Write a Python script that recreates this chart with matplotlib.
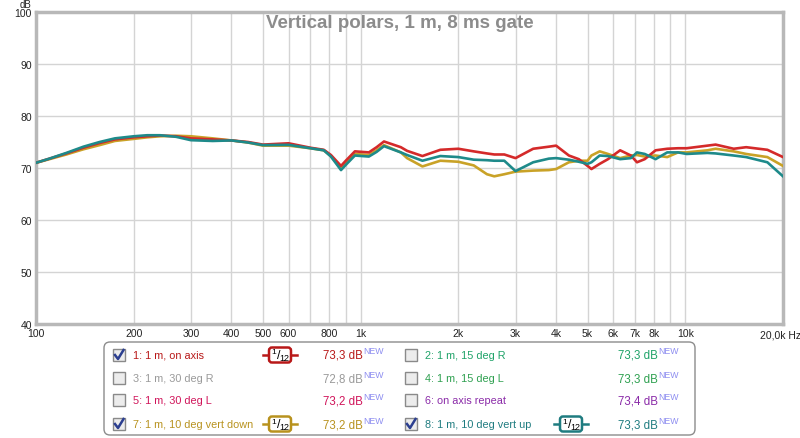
import matplotlib
matplotlib.use("Agg")
import matplotlib.pyplot as plt
from matplotlib.patches import Rectangle, FancyBboxPatch
from matplotlib.lines import Line2D
from matplotlib.transforms import Affine2D

plt.rcParams['font.family'] = ['Liberation Sans', 'DejaVu Sans']

# frequencies (Hz) shared by the three visible curves
freq = [100, 110, 124, 140, 157, 175, 200, 220, 241, 270, 300, 350, 400, 450, 500, 600, 700, 770,
        810, 870, 900, 960, 1060, 1120, 1180, 1330, 1390, 1550, 1760, 2000, 2230, 2450, 2580,
        2770, 3000, 3400, 3800, 4000, 4380, 4700, 5000, 5140, 5450, 5780, 6300, 6800, 7100,
        7500, 8100, 8800, 9500, 10100, 11700, 12400, 14100, 15400, 17900, 20000]

on_axis = [71.0, 71.8, 72.8, 73.9, 74.8, 75.5, 75.9, 76.1, 76.25, 76.1, 75.7, 75.5, 75.3, 75.0, 74.5,
           74.75, 73.9, 73.5, 72.5, 70.4, 71.4, 73.2, 73.0, 74.0, 75.1, 74.0, 73.3, 72.3, 73.5,
           73.7, 73.2, 72.8, 72.6, 72.6, 71.9, 73.7, 74.1, 74.3, 72.4, 71.7, 70.4, 69.8, 70.8,
           71.7, 73.4, 72.4, 71.1, 71.7, 73.4, 73.7, 73.8, 73.8, 74.3, 74.5, 73.7, 74.0, 73.5, 72.1]

vert_down = [71.0, 71.7, 72.6, 73.6, 74.4, 75.2, 75.6, 75.9, 76.1, 76.2, 76.1, 75.7, 75.3, 74.9, 74.3,
             74.3, 73.8, 73.4, 72.3, 69.9, 70.9, 72.7, 72.5, 73.4, 74.4, 73.0, 71.9, 70.3, 71.4,
             71.2, 70.5, 68.8, 68.4, 68.8, 69.3, 69.5, 69.6, 69.8, 71.1, 71.4, 71.4, 72.4, 73.2,
             72.7, 71.9, 72.4, 72.5, 72.2, 72.4, 72.1, 73.0, 73.0, 73.4, 73.7, 73.2, 72.7, 72.1, 70.4]

vert_up = [71.0, 71.8, 72.9, 74.1, 75.0, 75.7, 76.1, 76.3, 76.3, 76.0, 75.35, 75.2, 75.3, 74.9, 74.4,
           74.45, 73.8, 73.4, 72.2, 69.6, 70.6, 72.4, 72.2, 73.1, 74.2, 73.0, 72.5, 71.4, 72.3,
           72.1, 71.6, 71.5, 71.4, 71.4, 69.4, 71.1, 71.8, 71.9, 71.6, 71.2, 70.8, 71.1, 72.4,
           72.3, 71.7, 71.9, 73.0, 72.7, 71.7, 73.0, 73.0, 72.7, 72.9, 72.8, 72.4, 72.1, 71.1, 68.4]

xtick_vals = [100, 200, 300, 400, 500, 600, 700, 800, 900, 1000, 2000, 3000, 4000, 5000,
              6000, 7000, 8000, 9000, 10000, 20000]
xtick_labels = ['100', '200', '300', '400', '500', '600', '', '800', '', '1k', '2k', '3k', '4k', '5k',
                '6k', '7k', '8k', '', '10k', '']
ytick_vals = [40, 50, 60, 70, 80, 90, 100]

legend_labels = ["1: 1 m, on axis", "3: 1 m, 30 deg R", "5: 1 m, 30 deg L", "7: 1 m, 10 deg vert down",
                 "2: 1 m, 15 deg R", "4: 1 m, 15 deg L", "6: on axis repeat", "8: 1 m, 10 deg vert up"]
legend_levels = ["73,3", "72,8", "73,2", "73,2", "73,3", "73,3", "73,4", "73,3"]
legend_checked = [True, False, False, True, False, False, False, True]
legend_colors = ['#b81818', '#9a9a9a', '#d0145a', '#b8921e', '#1ea268', '#2ea050', '#8a2aa8', '#1f7c80']

W, H = 800, 439
fig = plt.figure(figsize=(W / 100, H / 100), dpi=100)
ax = fig.add_axes([36 / W, 1 - 325 / H, (783 - 36) / W, (325 - 13) / H])

ax.plot(freq, vert_down, color='#c9a227', lw=1.9, zorder=3)
ax.plot(freq, on_axis, color='#d42a2a', lw=1.9, zorder=4)
ax.plot(freq, vert_up, color='#1e8a8a', lw=1.9, zorder=5)

ax.set_xscale('log')
ax.set_xlim(100, 20000)
ax.set_ylim(40, 100)
ax.set_xticks(xtick_vals)
ax.set_xticklabels(xtick_labels)
ax.xaxis.set_minor_locator(matplotlib.ticker.NullLocator())
ax.set_yticks(ytick_vals)
ax.set_yticklabels([str(v) for v in ytick_vals])
ax.tick_params(length=0, labelsize=7.5, colors='#222222', pad=3)
ax.grid(True, color='#d4d4d4', lw=1)
for s in ax.spines.values():
    s.set_color('#b8b8b8')
    s.set_linewidth(2.5)

# pixel transform (y down)
T = Affine2D().scale(1 / 100, -1 / 100).translate(0, H / 100) + fig.dpi_scale_trans

fig.text(20, 5, 'dB', transform=T, fontsize=7, ha='left', va='center', color='#222222')
fig.text(760, 336, '20,0k Hz', transform=T, fontsize=7.5, ha='left', va='center', color='#222222')
fig.text(400, 24, 'Vertical polars, 1 m, 8 ms gate', transform=T, fontsize=13.5,
         fontweight='bold', color='#8c8c8c', ha='center', va='center')

# legend box
fig.patches.append(FancyBboxPatch((104, 343), 591, 93, boxstyle='round,pad=0,rounding_size=6',
                                  transform=T, fc='white', ec='#8c8c8c', lw=1))

rows_y = [356, 379, 401, 425]
col_x = [119, 411]
col_badge = [280, 571]
col_lvl = [323, 618]
for i, lab in enumerate(legend_labels):
    col, row = divmod(i, 4)
    cy = rows_y[row]
    cx = col_x[col]
    c = legend_colors[i]
    fig.patches.append(Rectangle((cx - 6, cy - 6), 12, 12, transform=T, fc='#ececec', ec='#8a8a8a', lw=1))
    if legend_checked[i]:
        fig.lines.append(Line2D([cx - 4, cx - 1, cx + 4.5], [cy, cy + 4, cy - 5], transform=T,
                                color='#2c3f90', lw=1.8))
        bx = col_badge[col]
        fig.lines.append(Line2D([bx - 17, bx + 17], [cy, cy], transform=T, color=c, lw=1.8))
        fig.patches.append(FancyBboxPatch((bx - 11, cy - 7.5), 22, 15,
                                          boxstyle='round,pad=0,rounding_size=3', transform=T,
                                          fc='white', ec=c, lw=1.8, zorder=3))
        fig.text(bx - 6, cy - 3, '1', transform=T, fontsize=6, ha='center', va='center', zorder=4)
        fig.text(bx - 1.5, cy, '/', transform=T, fontsize=9, ha='center', va='center', zorder=4)
        fig.text(bx + 4.5, cy + 2.5, '12', transform=T, fontsize=6.5, ha='center', va='center', zorder=4)
    fig.text(cx + 14, cy, lab, transform=T, fontsize=7.8, color=c, ha='left', va='center')
    fig.text(col_lvl[col], cy, legend_levels[i] + ' dB', transform=T, fontsize=8.3, color=c,
             ha='left', va='center')
    fig.text(col_lvl[col] + 40, cy - 4, 'NEW', transform=T, fontsize=6.3, color='#8c8cf0',
             ha='left', va='center')

fig.savefig('out.png', dpi=100)
